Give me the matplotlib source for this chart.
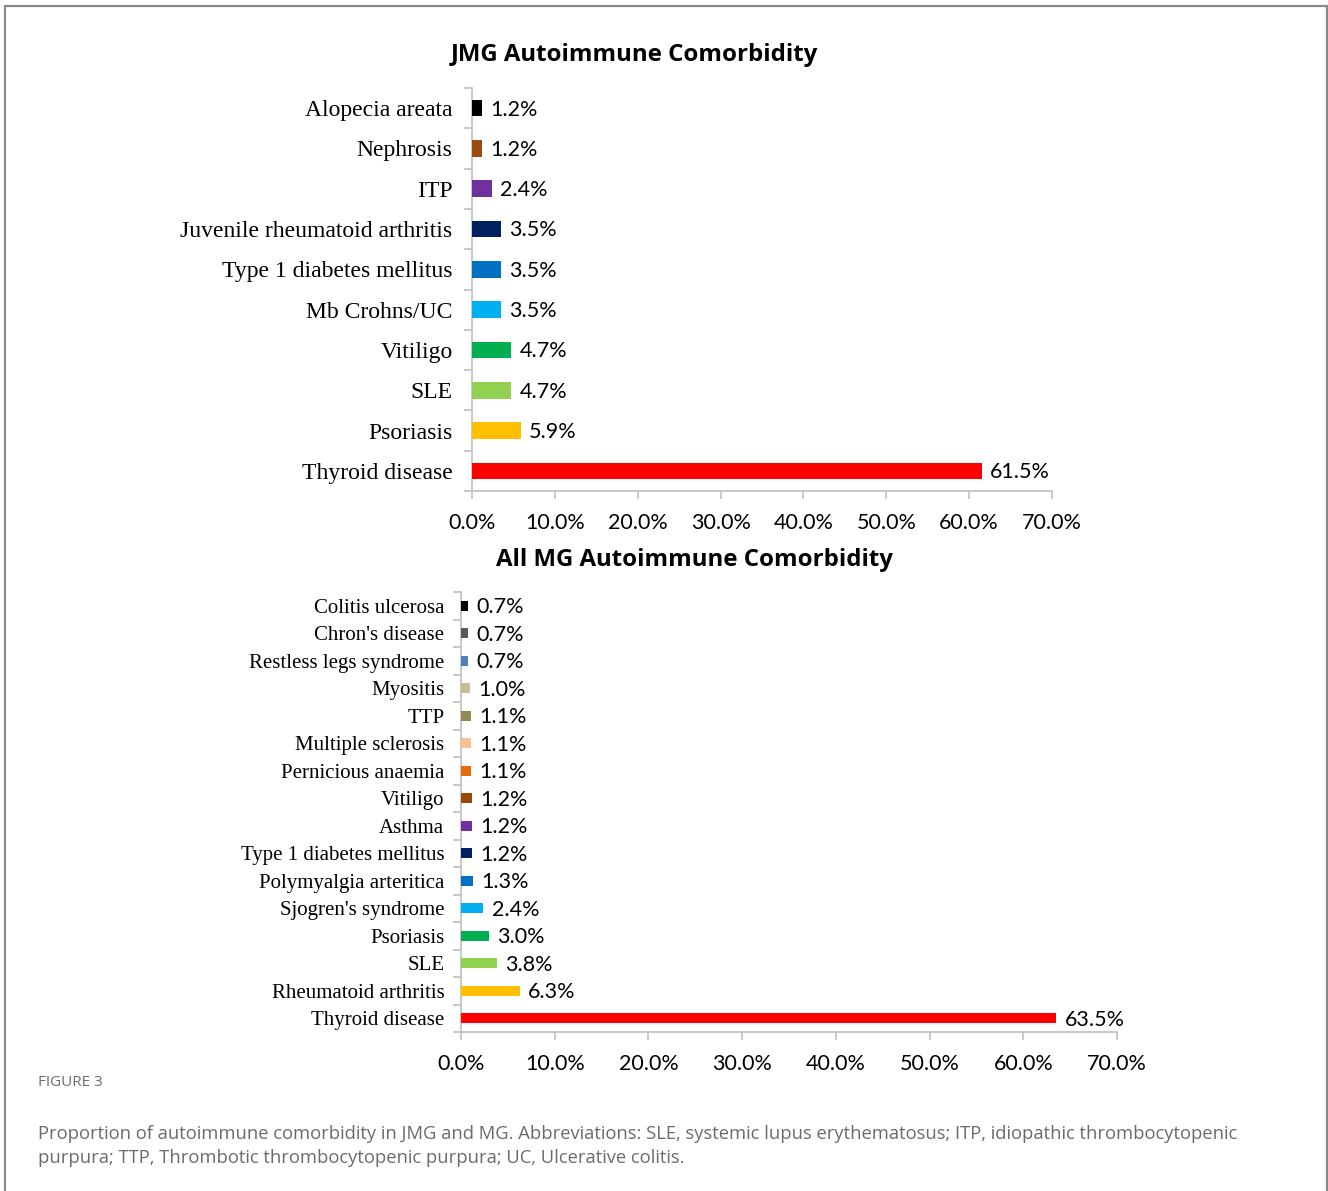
import numpy as np
import matplotlib
matplotlib.use('Agg')
import matplotlib.pyplot as plt
from matplotlib.patches import Rectangle

# JMG data (top to bottom)
jmg_labels = ['Alopecia areata', 'Nephrosis', 'ITP', 'Juvenile rheumatoid arthritis',
              'Type 1 diabetes mellitus', 'Mb Crohns/UC', 'Vitiligo', 'SLE', 'Psoriasis',
              'Thyroid disease']
jmg_values = [1.2, 1.2, 2.4, 3.5, 3.5, 3.5, 4.7, 4.7, 5.9, 61.5]
jmg_colors = ['#000000', '#9C4A0D', '#7030A0', '#002060', '#0070C0', '#00B0F0',
              '#00B050', '#92D050', '#FFC000', '#FF0000']

# All MG data (top to bottom)
mg_labels = ['Colitis ulcerosa', "Chron's disease", 'Restless legs syndrome', 'Myositis',
             'TTP', 'Multiple sclerosis', 'Pernicious anaemia', 'Vitiligo', 'Asthma',
             'Type 1 diabetes mellitus', 'Polymyalgia arteritica', "Sjogren's syndrome",
             'Psoriasis', 'SLE', 'Rheumatoid arthritis', 'Thyroid disease']
mg_values = [0.7, 0.7, 0.7, 1.0, 1.1, 1.1, 1.1, 1.2, 1.2, 1.2, 1.3, 2.4, 3.0, 3.8, 6.3, 63.5]
mg_colors = ['#000000', '#595959', '#4F81BD', '#C4BD97', '#948A54', '#FAC090',
             '#E46C0A', '#984807', '#7030A0', '#002060', '#0070C0', '#00B0F0',
             '#00B050', '#92D050', '#FFC000', '#FF0000']

xticks = [0, 10, 20, 30, 40, 50, 60, 70]

W, H = 1328, 1191
fig = plt.figure(figsize=(W / 100, H / 100), dpi=100)
fig.patch.set_facecolor('white')

NUM_FONT = 'Lato'
CAT_FONT = 'Liberation Serif'
AX_GRAY = '#BFBFBF'


def frac(x0, y0, x1, y1):
    return [x0 / W, 1 - y1 / H, (x1 - x0) / W, (y1 - y0) / H]


def draw_panel(ax, labels, values, colors, bar_h, cat_size, pad_px, xpad):
    n = len(labels)
    y = np.arange(n)
    ax.barh(y, values, height=bar_h, color=colors, zorder=3)
    ax.set_xlim(0, 70)
    ax.set_ylim(n - 0.5, -0.5)
    for s in ['top', 'right']:
        ax.spines[s].set_visible(False)
    for s in ['left', 'bottom']:
        ax.spines[s].set_color(AX_GRAY)
        ax.spines[s].set_linewidth(1.2)
    ax.set_yticks(y)
    ax.set_yticklabels(labels, fontfamily=CAT_FONT, fontsize=cat_size)
    ax.tick_params(axis='y', length=0, pad=pad_px)
    ax.set_yticks(np.arange(n + 1) - 0.5, minor=True)
    ax.tick_params(axis='y', which='minor', length=6, color=AX_GRAY, width=1.2)
    ax.set_xticks(xticks)
    ax.set_xticklabels([f'{v:.1f}%' for v in xticks], fontfamily=NUM_FONT, fontsize=15.5)
    ax.tick_params(axis='x', length=6, color=AX_GRAY, width=1.2, pad=xpad)
    for yi, v in zip(y, values):
        ax.annotate(f'{v:.1f}%', (v, yi), xytext=(6, -1), textcoords='offset points',
                    va='center', ha='left', fontfamily=NUM_FONT, fontsize=15.5)


ax1 = fig.add_axes(frac(472, 88, 1052, 491))
draw_panel(ax1, jmg_labels, jmg_values, jmg_colors, 0.41, 17, 14, 10)

ax2 = fig.add_axes(frac(461, 592, 1117, 1032))
draw_panel(ax2, mg_labels, mg_values, mg_colors, 0.38, 15, 12, 9.5)

fig.text(634 / W, 1 - 55 / H, 'JMG Autoimmune Comorbidity', ha='center', va='center',
         fontfamily='Open Sans', fontweight='bold', fontsize=17.3)
fig.text(694 / W, 1 - 560 / H, 'All MG Autoimmune Comorbidity', ha='center', va='center',
         fontfamily='Open Sans', fontweight='bold', fontsize=17.3)

# caption
fig.text(38 / W, 1 - 1083 / H, 'FIGURE 3', ha='left', va='center',
         fontfamily='Open Sans', fontsize=11, color='#6b6b6b')
fig.text(38 / W, 1 - 1134 / H,
         'Proportion of autoimmune comorbidity in JMG and MG. Abbreviations: SLE, systemic lupus erythematosus; ITP, idiopathic thrombocytopenic',
         ha='left', va='center', fontfamily='Open Sans', fontsize=13.25, color='#6b6b6b')
fig.text(38 / W, 1 - 1158 / H,
         'purpura; TTP, Thrombotic thrombocytopenic purpura; UC, Ulcerative colitis.',
         ha='left', va='center', fontfamily='Open Sans', fontsize=13.25, color='#6b6b6b')

# outer frame
fig.patches.append(Rectangle((5 / W, -0.05), 1322 / W, 1 - 6 / H + 0.05,
                             transform=fig.transFigure, fill=False,
                             edgecolor='#8a8a8a', linewidth=1.6))

fig.savefig('out.png', dpi=100)
